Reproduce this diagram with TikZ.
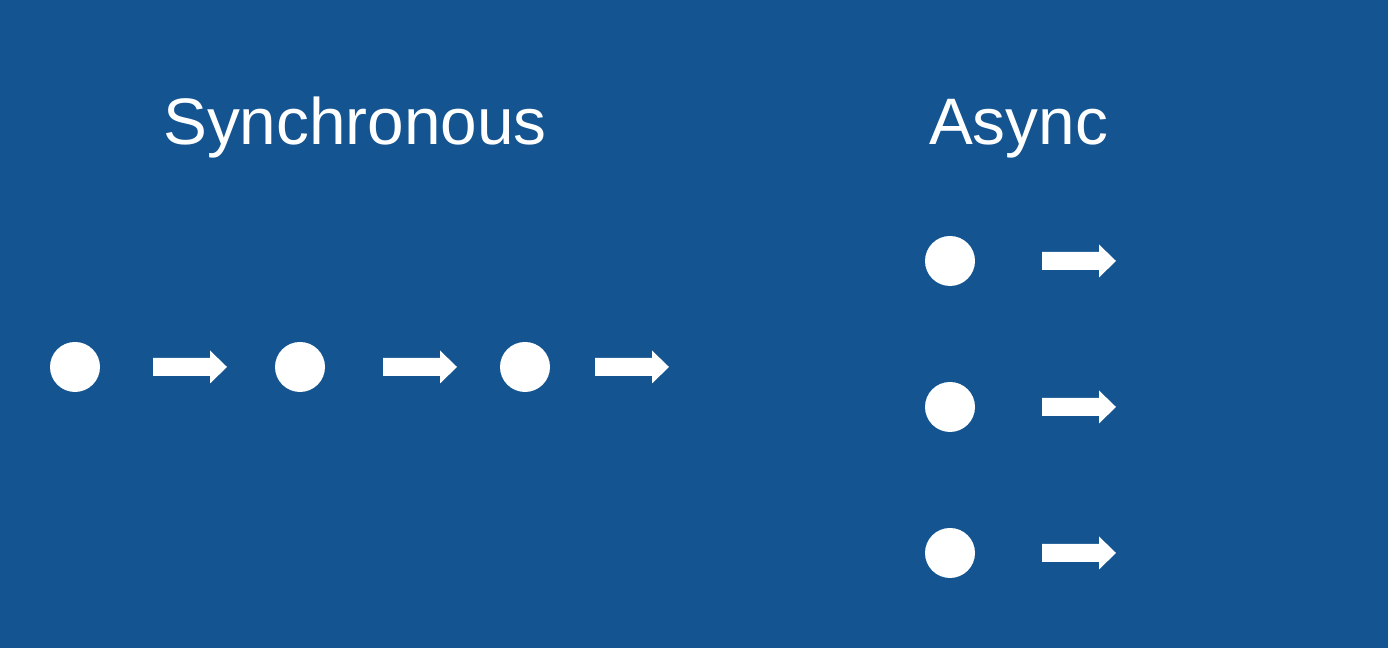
\documentclass[tikz,border=0pt]{standalone}
\usepackage{fontspec}
\setmainfont{Liberation Sans}
\definecolor{bgblue}{RGB}{19,84,145}
\newcommand{\blockarrow}[2]{%
  \fill[white] (#1,#2-0.09) -- (#1+0.57,#2-0.09) -- (#1+0.57,#2-0.165) -- (#1+0.74,#2)
    -- (#1+0.57,#2+0.165) -- (#1+0.57,#2+0.09) -- (#1,#2+0.09) -- cycle;}
\begin{document}
\begin{tikzpicture}[scale=1]
\fill[bgblue] (0,0) rectangle (13.88,6.48);
\useasboundingbox (0,0) rectangle (13.88,6.48);
% synchronous: one after the other
\foreach \x/\a in {0.75/1.53,3.00/3.83,5.25/5.95} {
  \fill[white] (\x,2.81) circle (0.25);
  \blockarrow{\a}{2.81}
}
% async: all at once
\foreach \y in {3.87,2.41,0.95} {
  \fill[white] (9.50,\y) circle (0.25);
  \blockarrow{10.42}{\y}
}
\node[white,anchor=base,font=\fontsize{18.7}{22}\selectfont] (sync) at (3.55,5.035) {Synchronous};
\node[white,anchor=base,font=\fontsize{18.7}{22}\selectfont] (async) at (10.185,5.035) {Async};
\end{tikzpicture}
\end{document}
